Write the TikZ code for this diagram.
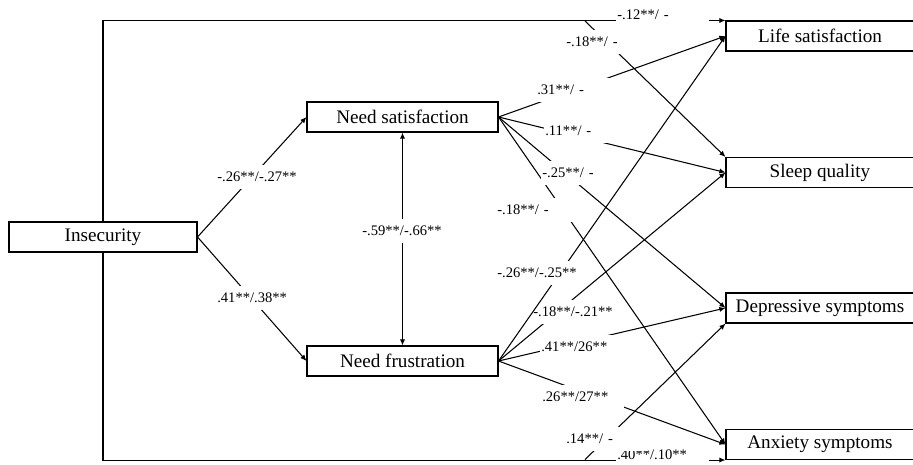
\documentclass[tikz,border=0pt]{standalone}
\usepackage{fontspec}
\setmainfont{Liberation Serif}
\usetikzlibrary{arrows.meta}

\begin{document}
\begin{tikzpicture}[x=0.02cm, y=-0.02cm, line width=0.6pt,
    >={Latex[length=3.5pt,width=3pt]},
    box/.style={shape=rectangle, draw=black, minimum width=3.76cm, minimum height=0.6cm, inner sep=0pt, font=\fontsize{10.9}{13}\selectfont},
    coef/.style={fill=white, anchor=west, inner sep=1pt, text width=1.6cm, align=left, minimum height=0.48cm, font=\fontsize{8.3}{10}\selectfont}]
    \useasboundingbox (0,0) rectangle (913,464);

    \node[box] (Ins) at (103,237) {Insecurity};
    \node[box, minimum width=3.82cm] (NS) at (402.5,117) {Need satisfaction};
    \node[box, minimum width=3.82cm] (NF) at (402.5,361) {Need frustration};
    \node[box] (LS) at (820,36) {Life satisfaction};
    \node[box] (SQ) at (820,172.5) {Sleep quality};
    \node[box] (DS) at (820,308) {Depressive symptoms};
    \node[box] (AS) at (820,444.5) {Anxiety symptoms};
    \coordinate (topfork) at (585,21);
    \coordinate (botfork) at (585,459.5);

    % direct paths
    \draw[->] (Ins.north) |- (LS.north west);
    \draw[->] (Ins.south) |- (AS.south west);
    \draw[->] (topfork) -- (SQ.north west);
    \draw[->] (botfork) -- (DS.south west);

    \draw[->] (Ins.east) -- (NS.west);
    \draw[->] (Ins.east) -- (NF.west);
    \draw[<->] (NS) -- (NF);

    \draw[->] (NS.east) -- (LS.west);
    \draw[->] (NS.east) -- (SQ.west);
    \draw[->] (NS.east) -- (DS.west);
    \draw[->] (NS.east) -- (AS.west);
    \draw[->] (NF.east) -- (SQ.west);
    \draw[->] (NF.east) -- (DS.west);
    \draw[->] (NF.east) -- (AS.west);

    \node[coef] (cInsNS) at (215,177) {-.26**/-.27**};
    \node[coef] (cInsNF) at (215,298) {.41**/.38**};
    \node[coef] (cNSNF) at (360,231) {-.59**/-.66**};
    \node[coef, text width=1.8cm] (cInsLS) at (615,15) {-.12**/ -};
    \node[coef] (cInsSQ) at (564,42) {-.18**/ -};
    \node[coef, text width=1.8cm, minimum height=0.4cm] (cInsAS) at (615,455) {.40**/.10**};
    \node[coef] (cInsDS) at (564,439) {.14**/ -};
    \node[coef] (cNSLS) at (535,90) {.31**/ -};
    \node[coef] (cNSSQ) at (543,131) {.11**/ -};
    \node[coef] (cNSDS) at (540,173) {-.25**/ -};
    \node[coef] (cNSAS) at (495,210) {-.18**/ -};
    \node[coef] (cNFSQ) at (531,312) {-.18**/-.21**};
    \node[coef] (cNFDS) at (539,347) {.41**/26**};
    \node[coef] (cNFAS) at (540,397) {.26**/27**};

    \draw[->] (NF.east) -- (LS.west);
    \node[coef] (cNFLS) at (495,273) {-.26**/-.25**};
\end{tikzpicture}
\end{document}
